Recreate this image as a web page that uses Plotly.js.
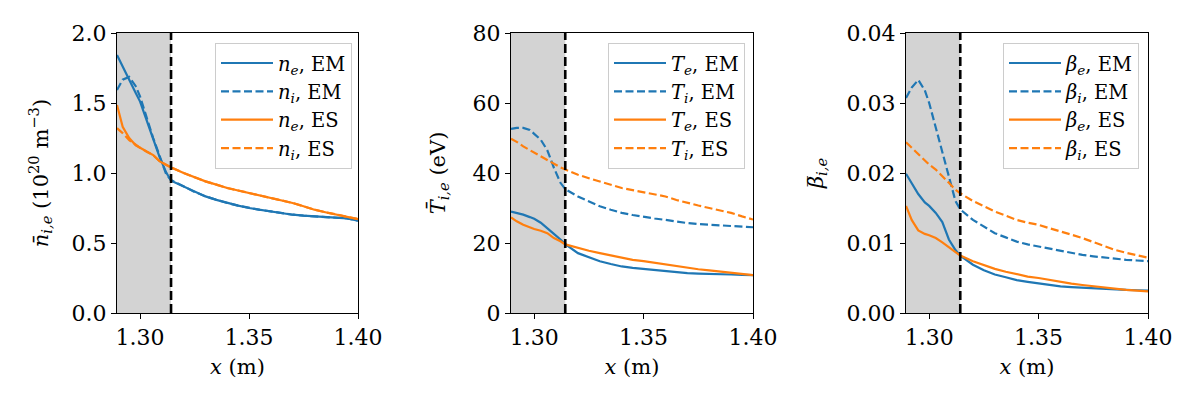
<!DOCTYPE html>
<html>
<head>
<meta charset="utf-8">
<script src="https://cdn.plot.ly/plotly-3.0.1.min.js"></script>
<style>html,body{margin:0;padding:0;background:#fff;}#chart{width:1200px;height:400px;}</style>
</head>
<body>
<div id="chart"></div>
<script>
// ---- data ----
const xPos = [1.2894, 1.292, 1.295, 1.298, 1.300, 1.303, 1.306, 1.309, 1.312, 1.3142,
  1.32, 1.325, 1.33, 1.335, 1.34, 1.345, 1.35, 1.355, 1.36, 1.365, 1.37, 1.375, 1.38, 1.385, 1.39, 1.395, 1.40];
const xSeparatrix = 1.3142;
const xTicks = [1.30, 1.35, 1.40];
const xTickLabels = ['1.30', '1.35', '1.40'];

const neEM = [1.843, 1.758, 1.665, 1.572, 1.51, 1.37, 1.244, 1.111, 1.003, 0.945,
  0.905, 0.865, 0.833, 0.808, 0.786, 0.767, 0.75, 0.737, 0.726, 0.713, 0.702, 0.695, 0.69, 0.686, 0.683, 0.676, 0.66];
const niEM = [1.593, 1.667, 1.686, 1.62, 1.545, 1.39, 1.25, 1.12, 0.99, 0.95,
  0.905, 0.865, 0.833, 0.808, 0.786, 0.767, 0.75, 0.737, 0.726, 0.713, 0.702, 0.695, 0.69, 0.686, 0.683, 0.676, 0.66];
const neES = [1.486, 1.33, 1.25, 1.198, 1.18, 1.152, 1.128, 1.083, 1.058, 1.04,
  1.0, 0.97, 0.94, 0.917, 0.893, 0.875, 0.857, 0.839, 0.821, 0.803, 0.786, 0.762, 0.738, 0.72, 0.702, 0.686, 0.671];
const niES = [1.32, 1.285, 1.235, 1.2, 1.18, 1.152, 1.128, 1.083, 1.058, 1.04,
  1.0, 0.97, 0.94, 0.917, 0.893, 0.875, 0.857, 0.839, 0.821, 0.803, 0.786, 0.762, 0.738, 0.72, 0.702, 0.686, 0.671];

const TeEM = [29.0, 28.6, 28.1, 27.4, 26.9, 25.8, 24.3, 22.6, 21.0, 19.7,
  17.1, 15.9, 14.8, 14.0, 13.3, 12.9, 12.6, 12.2, 11.9, 11.6, 11.4, 11.25, 11.1, 11.05, 11.0, 10.9, 10.8];
const TiEM = [52.6, 52.9, 52.9, 52.3, 51.2, 49.5, 46.5, 41.5, 37.2, 35.4,
  33.3, 31.9, 30.5, 29.5, 28.6, 28.0, 27.4, 27.0, 26.6, 26.1, 25.7, 25.4, 25.2, 25.1, 25.0, 24.7, 24.5];
const TeES = [27.3, 26.2, 25.2, 24.4, 24.0, 23.5, 22.8, 21.4, 20.5, 19.6,
  18.6, 17.8, 17.1, 16.4, 15.7, 15.2, 14.8, 14.3, 13.8, 13.3, 12.9, 12.5, 12.2, 11.8, 11.4, 11.1, 10.8];
const TiES = [49.8, 48.9, 47.6, 46.5, 45.9, 44.9, 43.7, 42.6, 41.6, 41.0,
  39.5, 38.5, 37.6, 36.6, 35.7, 35.1, 34.5, 33.9, 33.3, 32.3, 31.4, 30.7, 30.0, 29.3, 28.6, 27.6, 26.7];

const betaeEM = [0.0199, 0.0185, 0.0170, 0.0158, 0.0153, 0.0143, 0.0130, 0.0105, 0.0090, 0.0082,
  0.0069, 0.0061, 0.0055, 0.0051, 0.0047, 0.00445, 0.0042, 0.0040, 0.0038, 0.0037, 0.0036, 0.0035, 0.0034, 0.00335, 0.0033, 0.00325, 0.0032];
const betaiEM = [0.0307, 0.0322, 0.0333, 0.0318, 0.0300, 0.0266, 0.0230, 0.0195, 0.0160, 0.0148,
  0.0133, 0.0123, 0.0114, 0.0108, 0.0102, 0.0098, 0.0095, 0.0091, 0.0088, 0.0085, 0.0083, 0.0081, 0.0079, 0.0077, 0.0076, 0.0075, 0.0074];
const betaeES = [0.0153, 0.0133, 0.0118, 0.0113, 0.0111, 0.0107, 0.0101, 0.0094, 0.0088, 0.0082,
  0.0074, 0.0068, 0.0063, 0.0059, 0.0055, 0.0052, 0.0050, 0.0047, 0.0045, 0.0042, 0.0040, 0.0038, 0.0037, 0.0035, 0.0033, 0.0032, 0.0031];
const betaiES = [0.0244, 0.0236, 0.0226, 0.0217, 0.0212, 0.0205, 0.0196, 0.0186, 0.0176, 0.0171,
  0.0160, 0.0152, 0.0145, 0.0139, 0.0133, 0.0129, 0.0126, 0.0121, 0.0117, 0.0112, 0.0107, 0.0101, 0.0095, 0.0090, 0.0086, 0.0082, 0.0079];

// ---- styling ----
const BLUE = '#1f77b4', ORANGE = '#ff7f0e';
const FONT = 'DejaVu Serif, serif';
const DASH = '8px,3.5px';

function tr(y, name, color, dashed, xa, ya, leg) {
  return {
    x: xPos, y: y, type: 'scatter', mode: 'lines', name: name,
    line: {color: color, width: 2.2, dash: dashed ? DASH : 'solid'},
    xaxis: xa, yaxis: ya, legend: leg, legendgroup: leg + name, showlegend: true
  };
}

const data = [
  tr(neEM, '<i>n<sub>e</sub></i>, EM', BLUE, false, 'x', 'y', 'legend'),
  tr(niEM, '<i>n<sub>i</sub></i>, EM', BLUE, true, 'x', 'y', 'legend'),
  tr(neES, '<i>n<sub>e</sub></i>, ES', ORANGE, false, 'x', 'y', 'legend'),
  tr(niES, '<i>n<sub>i</sub></i>, ES', ORANGE, true, 'x', 'y', 'legend'),
  tr(TeEM, '<i>T<sub>e</sub></i>, EM', BLUE, false, 'x2', 'y2', 'legend2'),
  tr(TiEM, '<i>T<sub>i</sub></i>, EM', BLUE, true, 'x2', 'y2', 'legend2'),
  tr(TeES, '<i>T<sub>e</sub></i>, ES', ORANGE, false, 'x2', 'y2', 'legend2'),
  tr(TiES, '<i>T<sub>i</sub></i>, ES', ORANGE, true, 'x2', 'y2', 'legend2'),
  tr(betaeEM, '<i>β<sub>e</sub></i>, EM', BLUE, false, 'x3', 'y3', 'legend3'),
  tr(betaiEM, '<i>β<sub>i</sub></i>, EM', BLUE, true, 'x3', 'y3', 'legend3'),
  tr(betaeES, '<i>β<sub>e</sub></i>, ES', ORANGE, false, 'x3', 'y3', 'legend3'),
  tr(betaiES, '<i>β<sub>i</sub></i>, ES', ORANGE, true, 'x3', 'y3', 'legend3')
];

const ML = 80, MR = 40, MT = 33, MB = 87, W = 1200;
const PW = W - ML - MR;
function dom(a, b) { return [(a - ML) / PW, (b - ML) / PW]; }

function xax(d, anchor) {
  return {
    domain: d, anchor: anchor, range: [xPos[0], xPos[xPos.length - 1]],
    tickvals: xTicks, ticktext: xTickLabels,
    showline: true, mirror: true, linecolor: 'black', linewidth: 1,
    ticks: 'outside', ticklen: 5, tickwidth: 1, tickcolor: 'black',
    showgrid: false, zeroline: false,
    tickfont: {family: FONT, size: 22, color: 'black'},
    title: {text: '<i>x</i> (m)', font: {family: FONT, size: 21, color: 'black'}, standoff: 9}
  };
}
function yax(anchor, range, dtick, fmt, title, standoff) {
  return {
    anchor: anchor, domain: [0, 1], range: range, dtick: dtick, tick0: 0, tickformat: fmt,
    showline: true, mirror: true, linecolor: 'black', linewidth: 1,
    ticks: 'outside', ticklen: 5, tickwidth: 1, tickcolor: 'black',
    showgrid: false, zeroline: false,
    tickfont: {family: FONT, size: 22, color: 'black'},
    title: {text: title, font: {family: FONT, size: 21, color: 'black'}, standoff: standoff}
  };
}

const legStyle = (x) => ({
  x: x, y: 0.965, xanchor: 'left', yanchor: 'top', xref: 'paper', yref: 'paper',
  bgcolor: 'rgba(255,255,255,0.8)', bordercolor: '#cccccc', borderwidth: 1,
  font: {family: FONT, size: 19.5, color: 'black'}, tracegroupgap: 0, itemwidth: 52
});

const shapes = [];
[['x', 'y'], ['x2', 'y2'], ['x3', 'y3']].forEach(([xa, ya]) => {
  shapes.push({type: 'rect', xref: xa, yref: ya + ' domain', x0: xPos[0], x1: xSeparatrix, y0: 0, y1: 1,
    fillcolor: '#d3d3d3', line: {width: 0}, layer: 'below'});
  shapes.push({type: 'line', xref: xa, yref: ya + ' domain', x0: xSeparatrix, x1: xSeparatrix, y0: 0, y1: 1,
    line: {color: 'black', width: 2.6, dash: '9px,4px'}, layer: 'above'});
});

const layout = {
  width: 1200, height: 400,
  margin: {l: ML, r: MR, t: MT, b: MB, autoexpand: false},
  paper_bgcolor: 'white', plot_bgcolor: 'white',
  showlegend: true,
  xaxis: xax(dom(117, 358), 'y'),
  xaxis2: xax(dom(511, 753), 'y2'),
  xaxis3: xax(dom(906, 1148), 'y3'),
  yaxis: yax('x', [0, 2], 0.5, '.1f', '<i>n̄<sub>i,e</sub></i> (10<sup>20</sup> m<sup>−3</sup>)', 17),
  yaxis2: yax('x2', [0, 80], 20, 'd', '<i>T̄<sub>i,e</sub></i> (eV)', 21),
  yaxis3: yax('x3', [0, 0.04], 0.01, '.2f', '<i>β̅<sub>i,e</sub></i>', 17),
  legend: legStyle(dom(215, 349)[0]),
  legend2: legStyle(dom(608, 743)[0]),
  legend3: legStyle(dom(1003, 1138)[0]),
  shapes: shapes
};

Plotly.newPlot('chart', data, layout, {staticPlot: true, displayModeBar: false});
</script>
</body>
</html>
